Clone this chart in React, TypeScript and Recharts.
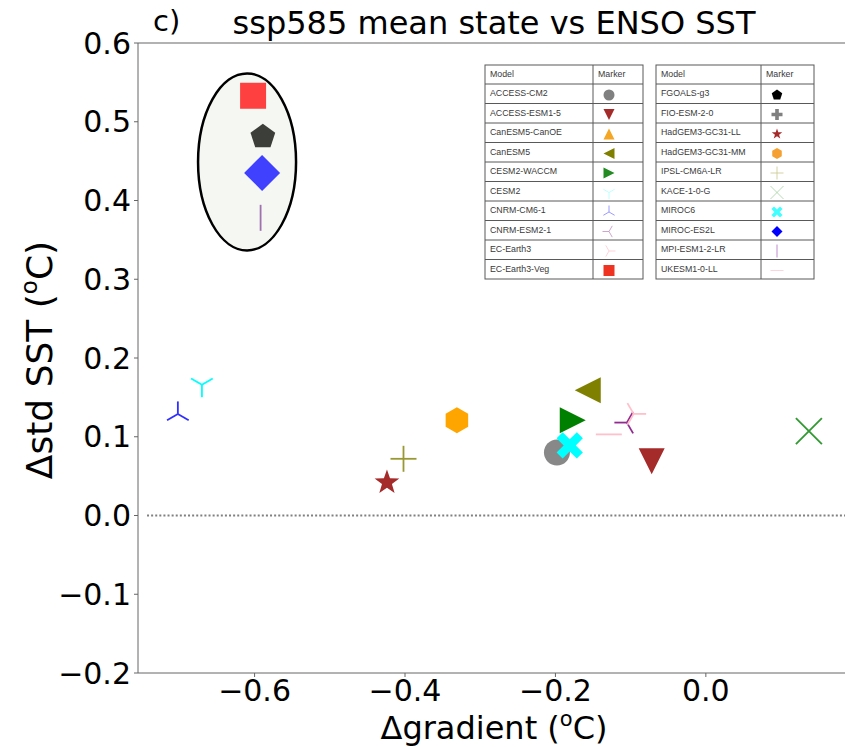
import { ScatterChart, Scatter, XAxis, YAxis, ReferenceLine, Customized } from "recharts";

const models = [
  "ACCESS-CM2", "ACCESS-ESM1-5", "CanESM5-CanOE", "CanESM5", "CESM2-WACCM",
  "CESM2", "CNRM-CM6-1", "CNRM-ESM2-1", "EC-Earth3", "EC-Earth3-Veg",
  "FGOALS-g3", "FIO-ESM-2-0", "HadGEM3-GC31-LL", "HadGEM3-GC31-MM", "IPSL-CM6A-LR",
  "KACE-1-0-G", "MIROC6", "MIROC-ES2L", "MPI-ESM1-2-LR", "UKESM1-0-LL",
];
// Δgradient (°C); null = not shown inside the plotted range
const gradient = [
  -0.198, -0.072, null, -0.157, -0.177,
  -0.670, -0.702, -0.105, -0.096, -0.602,
  -0.589, null, -0.424, -0.331, -0.402,
  0.137, -0.181, -0.590, -0.592, -0.129,
];
// Δstd SST (°C)
const stdSst = [
  0.080, 0.069, null, 0.159, 0.121,
  0.166, 0.129, 0.118, 0.129, 0.533,
  0.481, null, 0.042, 0.121, 0.072,
  0.107, 0.089, 0.435, 0.378, 0.103,
];
const markers = [
  "circle", "triangleDown", "triangleUp", "triangleLeft", "triangleRight",
  "triDown", "triUp", "triLeft", "triRight", "square",
  "pentagon", "plusFilled", "star", "hexagon", "plus",
  "x", "xFilled", "diamond", "vline", "hline",
];
const colors = [
  "#888888", "#a52a2a", "#ffa500", "#808000", "#008000",
  "#00ffff", "#2f2fff", "#912a91", "#ffc0cb", "#ff4040",
  "#3c3e3a", "#808080", "#a52a2a", "#ffa500", "#999933",
  "#339933", "#00ffff", "#4040ff", "#a070b0", "#ffc0cb",
];
const legendColors = [
  "#808080", "#a52a2a", "#f5a623", "#808000", "#228b22",
  "#b0ffff", "#8080ff", "#c090c0", "#ffc8d0", "#ee3322",
  "#000000", "#808080", "#a52a2a", "#f5a030", "#c8c890",
  "#a0d0a0", "#40ffff", "#0000ff", "#b070c0", "#ffc8d0",
];

const xTicks = [-0.6, -0.4, -0.2, 0.0];
const yTicks = [-0.2, -0.1, 0.0, 0.1, 0.2, 0.3, 0.4, 0.5, 0.6];

// highlighted cluster (ellipse) centre in data units
const clusterX = -0.61;
const clusterY = 0.449;

const points = models
  .map((m, i) => ({ model: m, x: gradient[i], y: stdSst[i], marker: markers[i], color: colors[i] }))
  .filter((p) => p.x !== null && p.y !== null);

const FONT = "DejaVu Sans, sans-serif";
const fmt = (v: number) => (v < 0 ? "\u2212" : "") + Math.abs(v).toFixed(1);

function drawMarker(kind: string, cx: number, cy: number, s: number, color: string, lw: number) {
  const h = s / 2;
  const poly = (pts: number[][]) => (
    <polygon points={pts.map(([x, y]) => `${cx + x},${cy + y}`).join(" ")} fill={color} />
  );
  const lines = (segs: number[][]) => (
    <g stroke={color} strokeWidth={lw}>
      {segs.map(([x1, y1, x2, y2], i) => (
        <line key={i} x1={cx + x1} y1={cy + y1} x2={cx + x2} y2={cy + y2} />
      ))}
    </g>
  );
  const regular = (n: number, r: number) =>
    Array.from({ length: n }, (_, k) => {
      const a = (-90 + (360 / n) * k) * (Math.PI / 180);
      return [r * Math.cos(a), r * Math.sin(a)];
    });
  const plusPts = (w: number) => [
    [-w, -h], [w, -h], [w, -w], [h, -w], [h, w], [w, w],
    [w, h], [-w, h], [-w, w], [-h, w], [-h, -w], [-w, -w],
  ];
  const c30 = Math.cos(Math.PI / 6);
  switch (kind) {
    case "circle":
      return <circle cx={cx} cy={cy} r={h} fill={color} />;
    case "square":
      return poly([[-h, -h], [h, -h], [h, h], [-h, h]]);
    case "triangleDown":
      return poly([[-h, -h], [h, -h], [0, h]]);
    case "triangleUp":
      return poly([[-h, h], [h, h], [0, -h]]);
    case "triangleLeft":
      return poly([[h, -h], [h, h], [-h, 0]]);
    case "triangleRight":
      return poly([[-h, -h], [-h, h], [h, 0]]);
    case "diamond":
      return poly([[0, -h], [h, 0], [0, h], [-h, 0]]);
    case "pentagon":
      return poly(regular(5, h));
    case "hexagon":
      return poly(regular(6, h));
    case "star": {
      const pts: number[][] = [];
      for (let k = 0; k < 10; k++) {
        const r = k % 2 === 0 ? h : h * 0.4;
        const a = (-90 + 36 * k) * (Math.PI / 180);
        pts.push([r * Math.cos(a), r * Math.sin(a)]);
      }
      return poly(pts);
    }
    case "plusFilled":
      return poly(plusPts(h * 0.33));
    case "xFilled": {
      const q = Math.SQRT1_2;
      return poly(plusPts(h * 0.3).map(([x, y]) => [(x - y) * q * 1.1, (x + y) * q * 1.1]));
    }
    case "triDown":
      return lines([[0, 0, 0, h], [0, 0, -h * c30, -h / 2], [0, 0, h * c30, -h / 2]]);
    case "triUp":
      return lines([[0, 0, 0, -h], [0, 0, -h * c30, h / 2], [0, 0, h * c30, h / 2]]);
    case "triLeft":
      return lines([[0, 0, -h, 0], [0, 0, h / 2, -h * c30], [0, 0, h / 2, h * c30]]);
    case "triRight":
      return lines([[0, 0, h, 0], [0, 0, -h / 2, -h * c30], [0, 0, -h / 2, h * c30]]);
    case "plus":
      return lines([[-h, 0, h, 0], [0, -h, 0, h]]);
    case "x":
      return lines([[-h, -h, h, h], [-h, h, h, -h]]);
    case "vline":
      return lines([[0, -h, 0, h]]);
    case "hline":
      return lines([[-h, 0, h, 0]]);
  }
  return null;
}

const isThin = (k: string) =>
  (k.startsWith("tri") && !k.startsWith("triangle")) || ["plus", "x", "vline", "hline"].includes(k);

const plotSize = (kind: string) => {
  if (kind === "diamond") return 36;
  if (kind.startsWith("tri") && !kind.startsWith("triangle")) return 25;
  return 26;
};

function PointShape(props: any) {
  const { cx, cy, payload } = props;
  const k = payload.marker;
  return drawMarker(k, cx, cy, plotSize(k), payload.color, isThin(k) ? 1.8 : 1);
}

function ClusterShape(props: any) {
  const { cx, cy } = props;
  return <ellipse cx={cx} cy={cy} rx={49} ry={88.5} fill="#f5f7f2" stroke="#000" strokeWidth={2.5} />;
}

function LegendTable({ x, start }: { x: number; start: number }) {
  const w = 158;
  const top = 65;
  const headH = 19;
  const rowH = 19.5;
  const colX = x + (start === 0 ? 108 : 105);
  const rows = models.slice(start, start + 10);
  const bottom = top + headH + rowH * 10;
  return (
    <g fontFamily="Liberation Sans, Arial, sans-serif" fontSize={8.8} fill="#3a3a3a">
      <rect x={x} y={top} width={w} height={bottom - top} fill="#fff" stroke="#595959" strokeWidth={1} />
      <line x1={colX} y1={top} x2={colX} y2={bottom} stroke="#595959" strokeWidth={1} />
      <text x={x + 5} y={top + 12}>Model</text>
      <text x={colX + 5} y={top + 12}>Marker</text>
      {rows.map((m, i) => {
        const y0 = top + headH + rowH * i;
        const idx = start + i;
        const mk = markers[idx];
        const thin = isThin(mk);
        return (
          <g key={m}>
            <line x1={x} y1={y0} x2={x + w} y2={y0} stroke="#595959" strokeWidth={1} />
            <text x={x + 5} y={y0 + 12}>{m}</text>
            {drawMarker(mk, colX + 16, y0 + 11, thin ? 13 : 11, legendColors[idx], thin ? 0.8 : 1)}
          </g>
        );
      })}
    </g>
  );
}

function Decorations() {
  return (
    <g fontFamily={FONT} fill="#000">
      <text x={153} y={31} fontSize={29}>c)</text>
      <text x={494} y={34} fontSize={32} textAnchor="middle">ssp585 mean state vs ENSO SST</text>
      <text x={494} y={739} fontSize={32} textAnchor="middle">
        Δgradient (<tspan fontSize={21} dy={-13}>o</tspan><tspan dy={13}>C)</tspan>
      </text>
      <text x={52} y={360} fontSize={36} textAnchor="middle" transform="rotate(-90 52 360)">
        Δstd SST (<tspan fontSize={23} dy={-15}>o</tspan><tspan dy={15}>C)</tspan>
      </text>
      <LegendTable x={485} start={0} />
      <LegendTable x={656} start={10} />
    </g>
  );
}

export default function App() {
  return (
    <div style={{ position: "absolute", left: 0, top: 0, width: 845, height: 747, background: "#fff" }}>
      <ScatterChart width={845} height={747} margin={{ top: 43, right: 0, bottom: 0, left: 0 }}>
        <XAxis
          type="number"
          dataKey="x"
          domain={[-0.755, 0.185]}
          ticks={xTicks}
          tickFormatter={fmt}
          allowDataOverflow
          height={74}
          stroke="#666"
          tickSize={4}
          tickMargin={3}
          tick={{ fontSize: 30, fill: "#000", fontFamily: FONT }}
        />
        <YAxis
          type="number"
          dataKey="y"
          domain={[-0.2, 0.6]}
          ticks={yTicks}
          tickFormatter={fmt}
          allowDataOverflow
          width={138}
          stroke="#666"
          tickSize={4}
          tickMargin={3}
          tick={{ fontSize: 30, fill: "#000", fontFamily: FONT }}
        />
        <ReferenceLine y={0.6} stroke="#666" strokeWidth={1.2} />
        <ReferenceLine
          segment={[{ x: -0.743, y: 0 }, { x: 0.185, y: 0 }]}
          stroke="#808080"
          strokeWidth={2}
          strokeDasharray="2 2.1"
        />
        <Scatter data={[{ x: clusterX, y: clusterY }]} shape={ClusterShape} isAnimationActive={false} />
        <Scatter data={points} shape={PointShape} isAnimationActive={false} />
        <Customized component={Decorations} />
      </ScatterChart>
    </div>
  );
}
